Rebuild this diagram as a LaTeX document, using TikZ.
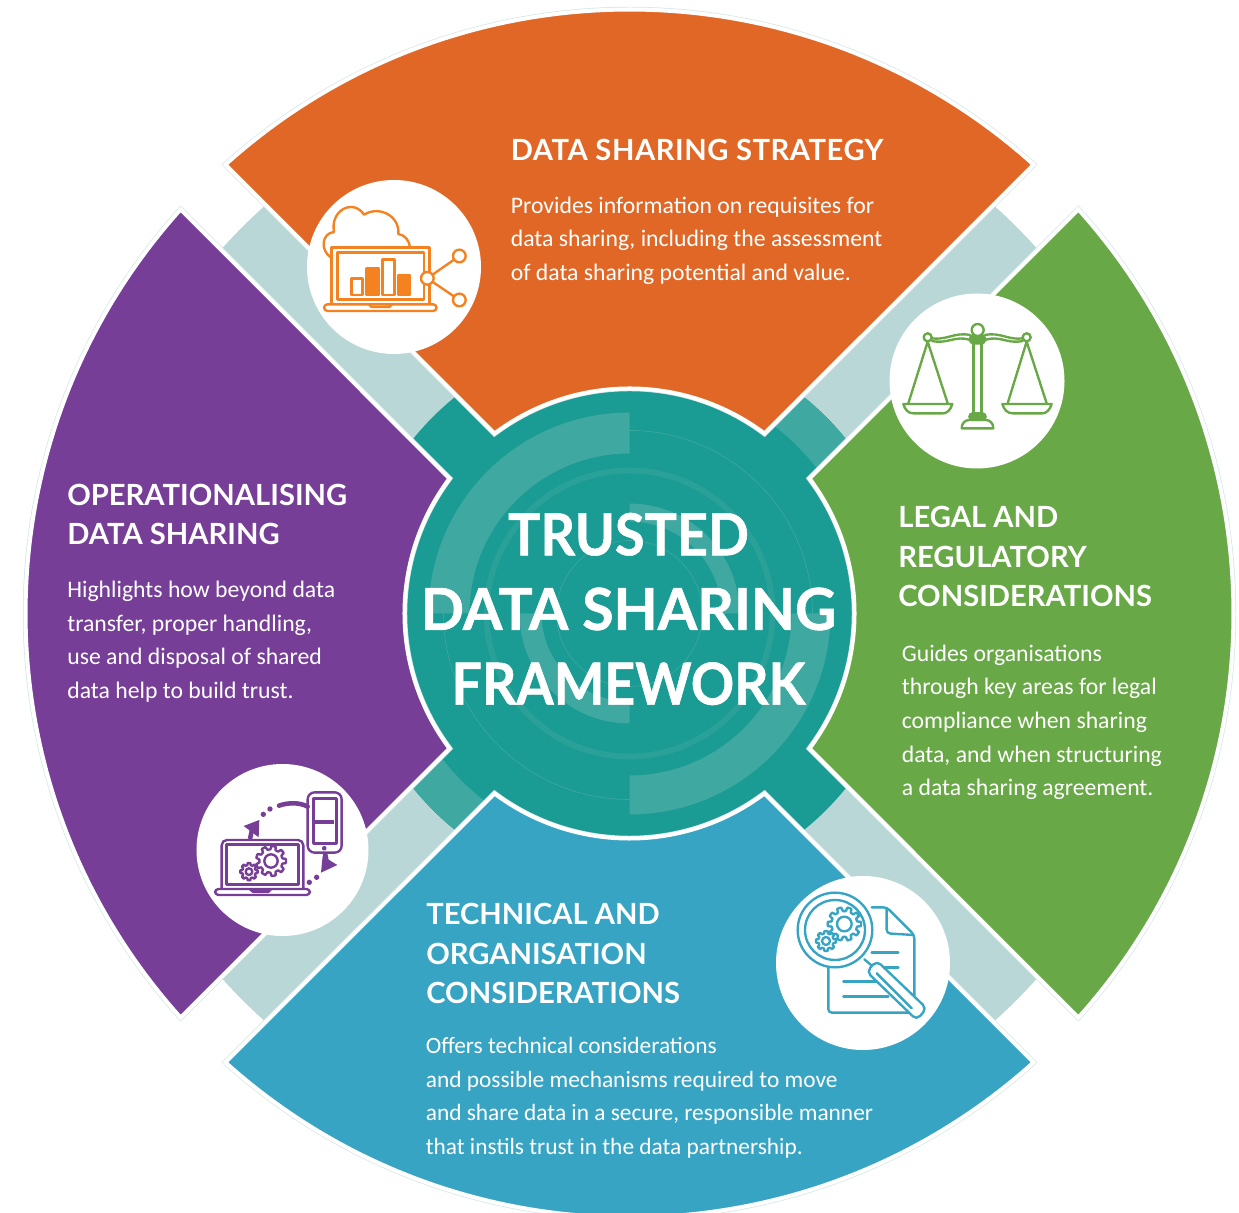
\documentclass[tikz,border=0pt]{standalone}
\usepackage{fontspec}
\usetikzlibrary{positioning}
\setmainfont{Carlito}
\newfontfamily\headfont{Lato}

\definecolor{orangeC}{HTML}{E06726}
\definecolor{purpleC}{HTML}{763E97}
\definecolor{blueC}{HTML}{37A4C4}
\definecolor{greenC}{HTML}{69A847}
\definecolor{tealC}{HTML}{1A9B93}
\definecolor{patchC}{HTML}{3FA8A1}
\definecolor{bandC}{HTML}{BAD7D8}
\definecolor{hairC}{HTML}{D3E6E6}
\definecolor{laptopC}{HTML}{F58220}

\newcommand{\ringpatch}[4]{\fill[patchC] (#1:#4) arc[start angle=#1, end angle=#2, radius=#4]
    -- (#2:#3) arc[start angle=#2, end angle=#1, radius=#3] -- cycle;}
\newcommand{\gearicon}[5]{\begin{scope}[shift={(#1,#2)}]
    \draw[iconline, fill=white] (0:#3) \foreach \k in {1,...,#5} {
        -- ({(\k-1+.2)*360/#5}:#3) -- ({(\k-1+.32)*360/#5}:{#3*.78})
        -- ({(\k-1+.68)*360/#5}:{#3*.78}) -- ({(\k-1+.8)*360/#5}:#3) -- ({\k*360/#5}:#3)} -- cycle;
    \draw[iconline] (0,0) circle[radius=#4];
    \end{scope}}
\newcommand{\titleline}[2]{{\addfontfeatures{FakeStretch=#1, FakeBold=.9}#2}}

\begin{document}
\begin{tikzpicture}[x=.02cm, y=.02cm, line join=miter]
    \tikzstyle{sector}=[draw=white, line width=2.3pt, preaction={draw=hairC, line width=3.1pt}]
    \tikzstyle{disc}=[fill=white]
    \tikzstyle{heading}=[inner sep=0pt, text=white, align=left,
                         font=\headfont\bfseries\fontsize{16.6}{22.5}\selectfont]
    \tikzstyle{body}=[inner sep=0pt, text=white, align=left,
                      font=\fontsize{13.5}{19.1}\selectfont]
    \tikzstyle{iconline}=[draw=iconC, line width=1.35pt, line join=round, line cap=round]

    \useasboundingbox (-629.5,613.5) rectangle (609.5,-598.5);

    \fill[bandC] (0,0) circle[radius=547];
    \fill[tealC] (0,0) circle[radius=278];
    \ringpatch{0}{90}{237}{278}
    \ringpatch{180}{270}{237}{278}

    \foreach \ang/\col in {0/orangeC, 90/purpleC, 180/blueC, 270/greenC} {
        \draw[sector, fill=\col, rotate=\ang] (48:604) arc[start angle=48, end angle=132, radius=604]
            -- (126.87:225) arc[start angle=126.87, end angle=53.13, radius=225] -- cycle;
    }

    \ringpatch{90}{180}{160}{201}
    \ringpatch{270}{360}{162}{201}
    \ringpatch{0}{90}{92}{110}
    \ringpatch{180}{270}{88}{110}
    \draw[patchC!40!tealC, line width=3.4pt] (0,0) circle[radius=143];
    \draw[patchC, line width=.35pt] (0,0) circle[radius=73];
    \draw[patchC, line width=.35pt] (90:183) arc[start angle=90, end angle=0, radius=183];
    \draw[patchC, line width=.35pt] (270:186) arc[start angle=270, end angle=180, radius=186];

    \fill[disc] (-235.5,346.5) circle[radius=87];
    \fill[disc] (347.5,232.5)  circle[radius=87.5];
    \fill[disc] (-347,-236.5) circle[radius=86];
    \fill[disc] (233.5,-349.5) circle[radius=87];

    % laptop with chart
    \begin{scope}[shift={(290-629.5,613.5-170)}, x=.02cm/3, y=-.02cm/3]
        \colorlet{iconC}{laptopC}
        \draw[iconline] (122,262) .. controls (90,240) and (95,190) .. (132,186)
            .. controls (120,120) and (190,85) .. (222,134)
            .. controls (270,105) and (330,140) .. (325,192)
            .. controls (345,195) and (358,212) .. (360,232);
        \draw[iconline] (125,233) rectangle (418,402);
        \draw[iconline] (142,248) rectangle (402,388);
        \draw[iconline, fill=white, rounded corners=2pt] (102,403) rectangle (440,423);
        \draw[iconline] (238,405) -- (245,411) -- (298,411) -- (305,405);
        \draw[iconline] (185,325) rectangle (218,375);
        \draw[iconline, fill=iconC] (230,295) rectangle (267,375);
        \draw[iconline] (278,268) rectangle (313,375);
        \draw[iconline, fill=iconC] (325,315) rectangle (360,375);
        \draw[iconline] (412,325) -- (508,258);
        \draw[iconline] (412,325) -- (508,390);
        \draw[iconline, fill=white] (412,325) circle[radius=19];
        \draw[iconline, fill=white] (508,258) circle[radius=19];
        \draw[iconline, fill=white] (508,390) circle[radius=19];
    \end{scope}

    % balance
    \begin{scope}[shift={(880-629.5,613.5-285)}, x=.02cm/3, y=-.02cm/3]
        \colorlet{iconC}{greenC}
        \draw[iconline] (143,158) .. controls (200,170) and (220,140) .. (270,150);
        \draw[iconline] (156,168) .. controls (205,178) and (225,150) .. (270,165);
        \draw[iconline] (440,158) .. controls (385,170) and (365,140) .. (315,150);
        \draw[iconline] (428,168) .. controls (380,178) and (360,150) .. (315,165);
        \draw[iconline] (280,172) rectangle (305,385);
        \draw[iconline, fill=iconC, rounded corners=2pt] (270,150) rectangle (315,175);
        \draw[iconline, fill=white] (293,135) circle[radius=18];
        \draw[iconline, fill=white] (143,157) circle[radius=12];
        \draw[iconline, fill=white] (440,157) circle[radius=12];
        \draw[iconline] (85,355) -- (143,170) -- (203,355);
        \draw[iconline] (383,355) -- (440,170) -- (500,355);
        \draw[iconline] (70,357) -- (217,357) .. controls (212,375) and (200,385) .. (190,385)
            -- (100,385) .. controls (85,385) and (75,375) .. (70,357);
        \draw[iconline] (367,357) -- (515,357) .. controls (510,375) and (498,385) .. (488,385)
            -- (398,385) .. controls (383,385) and (372,375) .. (367,357);
        \draw[iconline, fill=iconC, rounded corners=2pt] (268,385) rectangle (317,405);
        \draw[iconline] (245,430) -- (340,430) .. controls (340,415) and (330,405) .. (317,405)
            -- (268,405) .. controls (255,405) and (245,415) .. (245,430);
    \end{scope}

    % laptop and phone
    \begin{scope}[shift={(185-629.5,613.5-755)}, x=.02cm/3, y=-.02cm/3]
        \colorlet{iconC}{purpleC}
        \draw[iconline, rounded corners=3pt] (110,402) -- (110,255) -- (355,255) -- (355,402);
        \draw[iconline] (125,268) rectangle (340,388);
        \draw[iconline, fill=white, rounded corners=2pt] (90,402) rectangle (375,420);
        \draw[iconline, fill=iconC] (195,403) -- (205,411) -- (250,411) -- (258,403) -- cycle;
        \gearicon{258}{318}{45}{20}{9}
        \gearicon{192}{350}{26}{10}{8}
        \draw[iconline, rounded corners=4pt] (368,112) rectangle (470,293);
        \draw[iconline] (385,130) rectangle (455,265);
        \draw[iconline, line width=2.2pt, line cap=butt] (390,200) -- (448,200);
        \draw[iconline] (418,280) circle[radius=4];
        \draw[iconline, line width=2.6pt] (282,152) .. controls (310,142) and (345,142) .. (368,155);
        \fill[iconC] (255,162) circle[radius=8];
        \fill[iconC] (235,178) circle[radius=8];
        \draw[iconline, line width=2.6pt, line cap=butt] (195,252) -- (203,215);
        \fill[iconC] (176,213) -- (223,195) -- (221,247) -- cycle;
        \draw[iconline, line width=2.6pt, line cap=butt] (420,295) -- (428,335);
        \fill[iconC] (408,353) -- (457,330) -- (413,303) -- cycle;
        \fill[iconC] (395,367) circle[radius=8];
        \fill[iconC] (373,382) circle[radius=8];
    \end{scope}

    % document under magnifier
    \begin{scope}[shift={(765-629.5,613.5-870)}, x=.02cm/3, y=-.02cm/3]
        \colorlet{iconC}{blueC}
        \draw[iconline, rounded corners=2pt] (320,112) -- (365,112) -- (448,195) -- (448,428)
            -- (190,428) -- (190,290);
        \draw[iconline, rounded corners=2pt] (365,114) -- (365,190) -- (445,195);
        \draw[iconline] (320,247) -- (400,247);
        \draw[iconline] (350,292) -- (400,292);
        \draw[iconline] (235,335) -- (340,335);
        \draw[iconline] (235,380) -- (370,380);
        \draw[iconline] (298,268) -- (322,288);
        \draw[iconline, fill=white, rounded corners=3pt] (305,305) -- (335,272) -- (485,415) -- (455,450) -- cycle;
        \draw[iconline] (335,310) -- (440,415);
        \draw[iconline, fill=white] (210,180) circle[radius=112];
        \draw[iconline] (210,180) circle[radius=90];
        \gearicon{238}{162}{50}{22}{10}
        \gearicon{183}{213}{30}{12}{8}
    \end{scope}

    \node[heading] (strategyHead) [anchor=north west] at (-119,475) {\addfontfeatures{LetterSpace=1.8}DATA SHARING STRATEGY};
    \node[body]    (strategyBody) [below right=20.2pt and 0pt of strategyHead.south west]
        {Provides information on requisites for\\data sharing, including the assessment\\of data sharing potential and value.};

    \node[heading] (operateHead) [anchor=north west] at (-562.5,130) {OPERATIONALISING\\DATA SHARING};
    \node[body]    (operateBody) [below right=20.2pt and 0pt of operateHead.south west]
        {Highlights how beyond data\\transfer, proper handling,\\use and disposal of shared\\data help to build trust.};

    \node[heading] (legalHead) [anchor=north west] at (268.5,107.5) {LEGAL AND\\REGULATORY\\CONSIDERATIONS};
    \node[body]    (legalBody) [below right=21.2pt and 2pt of legalHead.south west]
        {Guides organisations\\through key areas for legal\\compliance when sharing\\data, and when structuring\\a data sharing agreement.};

    \node[heading] (techHead) [anchor=north west] at (-203.5,-289.5) {TECHNICAL AND\\ORGANISATION\\CONSIDERATIONS};
    \node[body, font=\fontsize{13.3}{19.1}\selectfont] (techBody) [below right=18.6pt and -.3pt of techHead.south west]
        {Offers technical considerations\\and possible mechanisms required to move\\and share data in a secure, responsible manner\\that instils trust in the data partnership.};

    \node[inner sep=0pt, text=white, align=center, font=\headfont\bfseries\fontsize{33}{42.5}\selectfont]
        (frameworkTitle) at (-1,4.5) {\titleline{.93}{TRUSTED}\\\titleline{.985}{DATA SHARING}\\\titleline{.925}{FRAMEWORK}};
\end{tikzpicture}
\end{document}
